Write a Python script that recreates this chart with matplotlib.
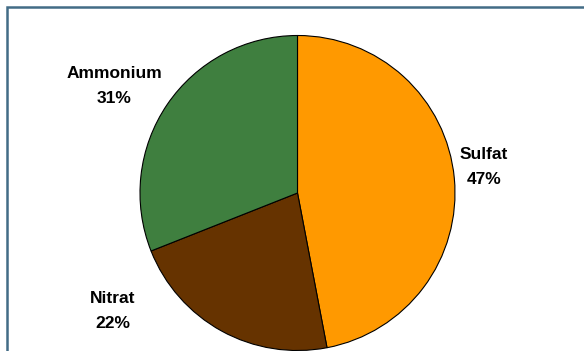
import matplotlib.pyplot as plt

plt.rcParams['font.family'] = ['Liberation Sans', 'DejaVu Sans']

labels = ["Sulfat", "Nitrat", "Ammonium"]
shares = [47, 22, 31]
colors = ["#ff9900", "#663300", "#3f7f3f"]

W, H = 584, 351
fig = plt.figure(figsize=(W / 100, H / 100), dpi=100)
ax = fig.add_axes([0, 0, 1, 1])

ax.pie(shares, colors=colors, startangle=90, counterclock=False,
       center=(297.5, H - 193), radius=157.5, frame=True,
       wedgeprops=dict(edgecolor="black", linewidth=0.8))
ax.set_xlim(0, W)
ax.set_ylim(0, H)
ax.set_aspect("equal")
ax.axis("off")

# label positions (pixel coords from top-left)
label_pos = [(484, 167), (113, 311), (114, 86)]
for name, val, (x, y) in zip(labels, shares, label_pos):
    ax.text(x, H - y, f"{name}\n{val}%", ha="center", va="center",
            fontsize=12.5, fontweight="bold", linespacing=1.85)

# outer frame (only left and top edges are visible)
ax.plot([6.5, 6.5, W + 5], [-5, H - 6.5, H - 6.5], color="#436c86",
        linewidth=1.8, solid_joinstyle="miter", clip_on=False)

fig.savefig("out.png", dpi=100)
